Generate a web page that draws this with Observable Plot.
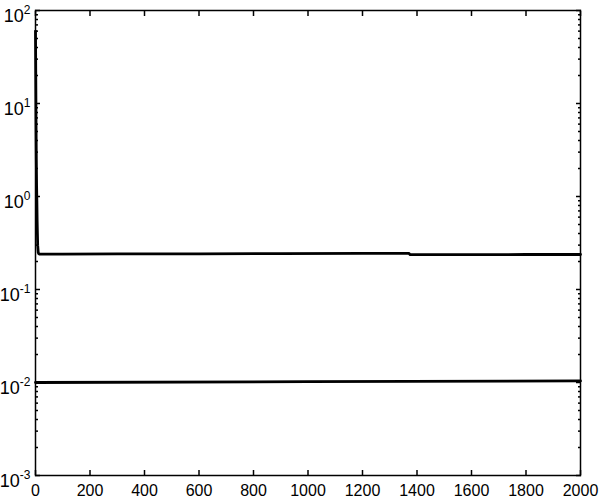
<!DOCTYPE html>
<html>
<head>
<meta charset="utf-8">
<script src="https://cdn.jsdelivr.net/npm/d3@7"></script>
<script src="https://cdn.jsdelivr.net/npm/@observablehq/plot@0.6"></script>
<style>
  html, body { margin: 0; padding: 0; background: #fff; }
  #chart { width: 600px; height: 503px; }
</style>
</head>
<body>
<div id="chart"></div>
<script>
// Upper series: sharp transient at start, then flat ~0.24
const upperX = [0, 1, 2, 3, 4, 5, 6, 7, 8, 10, 12, 15, 20, 100, 300, 600, 900, 1200, 1370, 1375, 1600, 1800, 2000];
const upperY = [60, 20, 6, 2.5, 1.3, 0.9, 0.55, 0.4, 0.3, 0.25, 0.242, 0.24, 0.24, 0.24, 0.241, 0.242, 0.243, 0.244, 0.245, 0.237, 0.237, 0.238, 0.238];
// Lower series: flat ~0.01
const lowerX = [0, 1000, 2000];
const lowerY = [0.0100, 0.0102, 0.0104];

const xTicks = [0, 200, 400, 600, 800, 1000, 1200, 1400, 1600, 1800, 2000];
const yTicks = [1e-3, 1e-2, 1e-1, 1e0, 1e1, 1e2];
const yMinor = [];
for (let e = -3; e < 2; e++) for (let m = 2; m <= 9; m++) yMinor.push(m * Math.pow(10, e));

const fmtY = d => "10^" + Math.round(Math.log10(d));

const upper = upperX.map((x, i) => ({x, y: upperY[i]}));
const lower = lowerX.map((x, i) => ({x, y: lowerY[i]}));

const chart = Plot.plot({
  width: 600,
  height: 503,
  marginLeft: 35,
  marginRight: 20,
  marginTop: 10,
  marginBottom: 28,
  style: {fontFamily: "Liberation Sans, Arial, sans-serif", fontSize: "16px", background: "#fff", color: "#000"},
  x: {domain: [0, 2000]},
  y: {type: "log", domain: [1e-3, 1e2]},
  marks: [
    Plot.frame({stroke: "#000", strokeWidth: 1.5}),
    Plot.axisX(xTicks, {anchor: "bottom", tickSize: -5, tickPadding: 14, label: null, fontSize: 16, tickFormat: d => String(d), strokeWidth: 1.5}),
    Plot.axisX(xTicks, {anchor: "top", tickSize: -5, text: null, label: null, strokeWidth: 1.5}),
    Plot.axisY(yTicks, {anchor: "left", tickSize: -5, tickPadding: 10, label: null, fontSize: 18, tickFormat: fmtY, strokeWidth: 1.5}),
    Plot.axisY(yTicks, {anchor: "right", tickSize: -5, text: null, label: null, strokeWidth: 1.5}),
    Plot.axisY(yMinor, {anchor: "left", tickSize: -3, text: null, label: null, strokeWidth: 1.5}),
    Plot.axisY(yMinor, {anchor: "right", tickSize: -3, text: null, label: null, strokeWidth: 1.5}),
    Plot.line(upper, {x: "x", y: "y", stroke: "#000", strokeWidth: 2.8}),
    Plot.line(lower, {x: "x", y: "y", stroke: "#000", strokeWidth: 2.8})
  ]
});
// Render "10^n" labels with a real superscript
chart.querySelectorAll("text").forEach(t => {
  const s = t.textContent;
  if (/^10\^-?\d+$/.test(s)) {
    const exp = s.split("^")[1];
    t.textContent = "";
    t.setAttribute("dy", "0.3em");
    const base = document.createElementNS("http://www.w3.org/2000/svg", "tspan");
    base.textContent = "10";
    const sp = document.createElementNS("http://www.w3.org/2000/svg", "tspan");
    sp.textContent = exp;
    sp.setAttribute("dy", "-8");
    sp.setAttribute("font-size", "12");
    t.appendChild(base);
    t.appendChild(sp);
  }
});
document.getElementById("chart").appendChild(chart);
</script>
</body>
</html>
